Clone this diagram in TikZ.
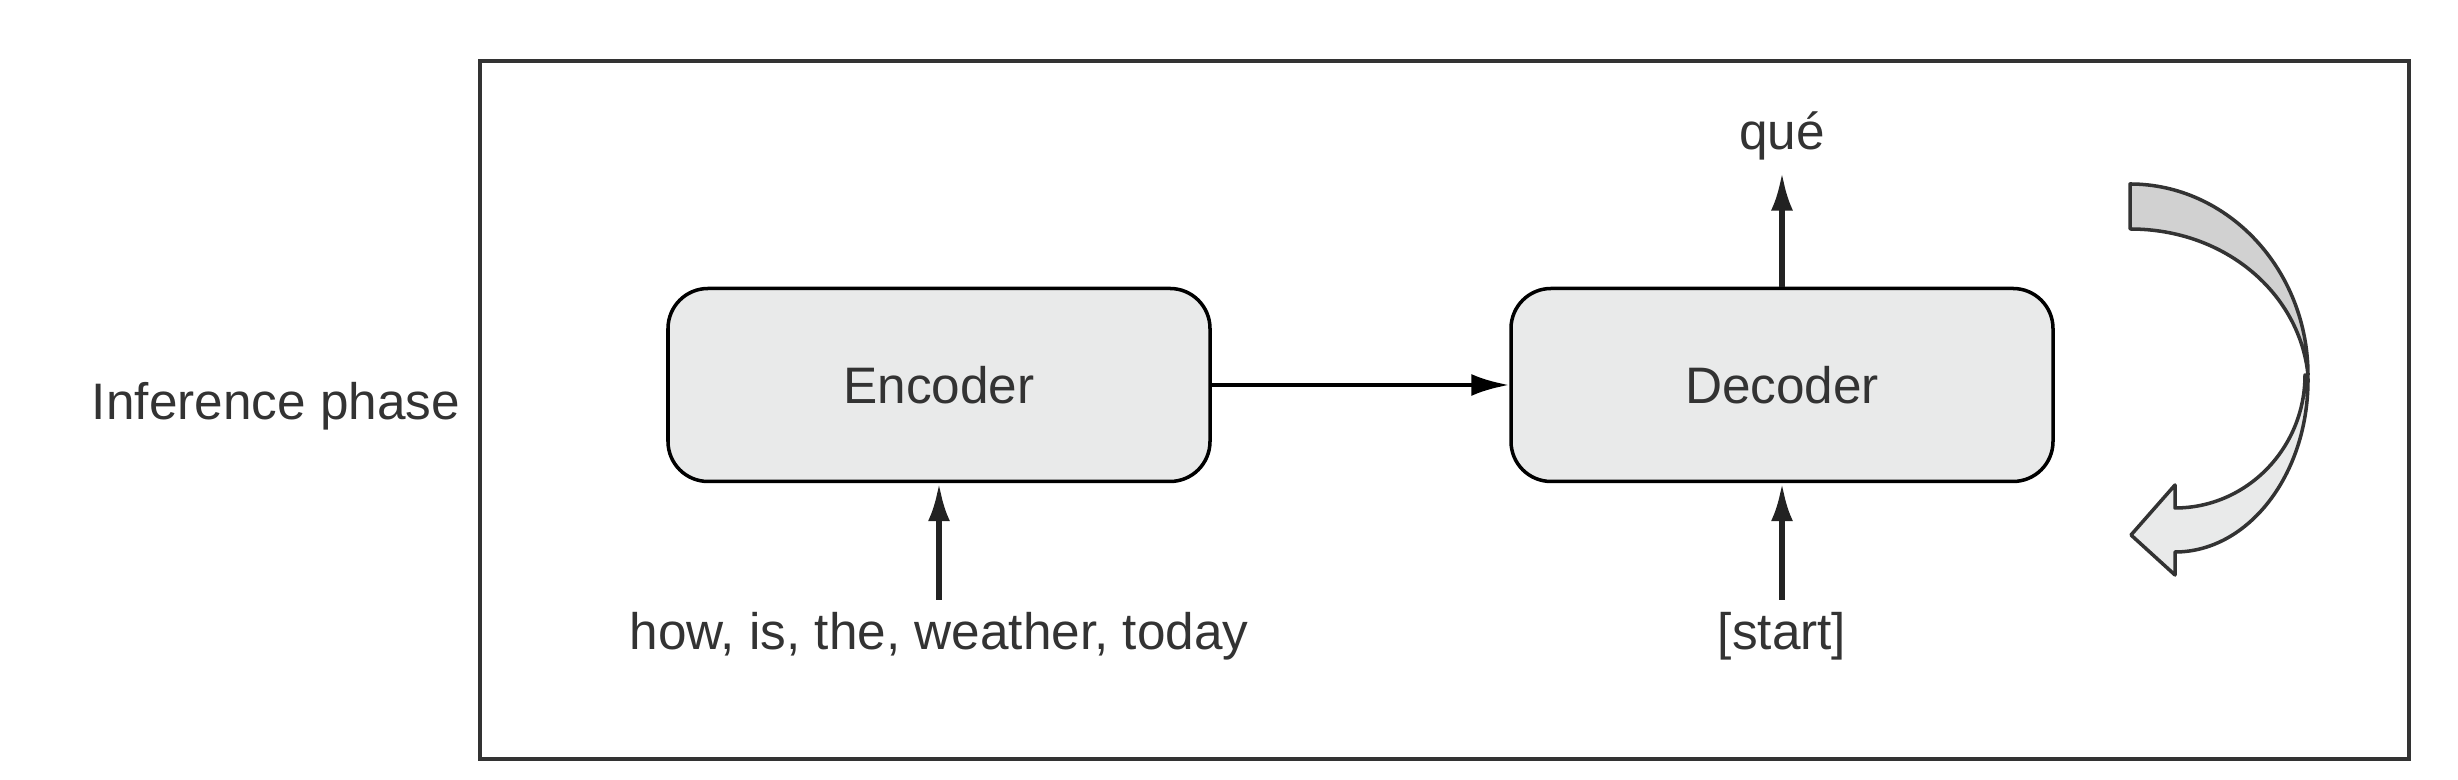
\documentclass[tikz,border=0pt]{standalone}
\usepackage{fontspec}
\setmainfont{Liberation Sans}
\usetikzlibrary{arrows.meta}
\definecolor{boxgray}{HTML}{E9EAEA}
\definecolor{ribbongray}{HTML}{D1D1D1}
\definecolor{inkgray}{HTML}{333333}
\definecolor{arrowink}{HTML}{222222}
\tikzset{
  block/.style={draw=black, fill=boxgray, rounded corners=0.4cm,
    minimum width=5.42cm, minimum height=1.93cm, line width=1pt},
  flow/.style={-{Latex[length=3.8mm,width=2.2mm]}, line width=1.6pt, draw=arrowink},
  ribbon/.style={draw=inkgray, line width=1pt, line join=round}
}
\begin{document}
\begin{tikzpicture}[font=\fontsize{14.6}{17}\selectfont, text=inkgray]
  \useasboundingbox (0,0) rectangle (24.58,7.80);
  \draw[line width=1.1pt, draw=inkgray] (4.80,0.21) rectangle (24.09,7.19);
  \draw
    (2.76,3.74) node (phase){Inference phase}
    (9.39,3.95) node[block] (enc){Encoder}
    (17.82,3.95) node[block] (dec){Decoder}
    (9.39,1.44) node (src){how, is, the, weather, today}
    (17.82,1.44) node (start){[start]}
    (17.82,6.44) node (out){qué};
  \begin{scope}[flow]
    \draw (src) to (enc);
    \draw (start) to (dec);
    \draw (dec) to (out);
    \draw[line width=1.3pt, draw=black] (enc) to (dec);
  \end{scope}
  \draw[ribbon, fill=ribbongray] (21.30,5.96)
    .. controls (22.28,5.96) and (23.08,5.10) .. (23.08,4.05)
    .. controls (23.00,4.85) and (22.27,5.51) .. (21.30,5.51) -- cycle;
  \draw[ribbon, fill=boxgray] (23.05,4.05)
    .. controls (23.08,4.05) and (23.08,4.05) .. (23.08,4.00)
    .. controls (23.08,3.05) and (22.48,2.28) .. (21.75,2.28)
    -- (21.75,2.05) -- (21.31,2.45) -- (21.75,2.95) -- (21.75,2.72)
    .. controls (22.47,2.72) and (23.05,3.32) .. (23.05,4.05) -- cycle;
\end{tikzpicture}
\end{document}
